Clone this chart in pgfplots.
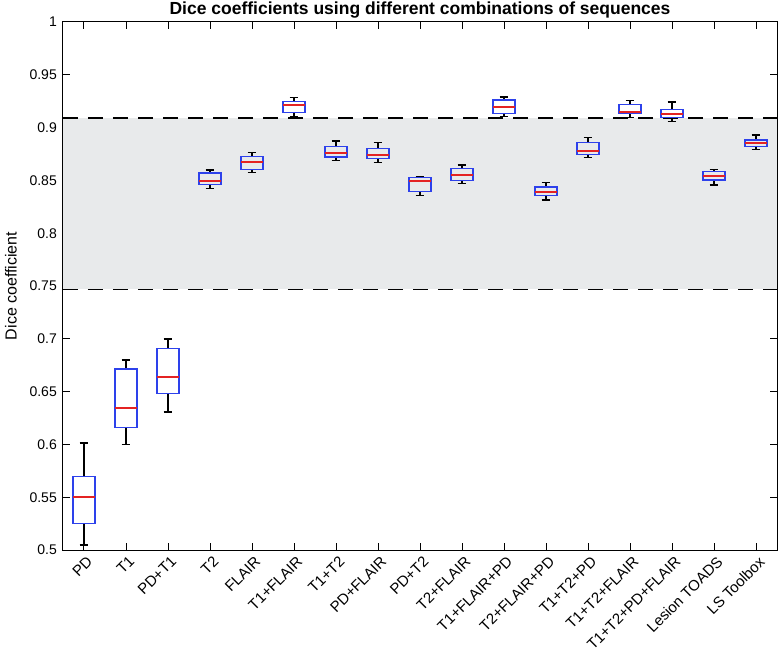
\documentclass[border=0pt]{standalone}
\usepackage{pgfplots}
\pgfplotsset{compat=1.18}
\usepgfplotslibrary{statistics}
\usepackage{fontspec}
\setmainfont{Liberation Sans}
\definecolor{bandgray}{rgb}{0.910,0.918,0.922}
\definecolor{boxblue}{RGB}{45,65,235}
\definecolor{medred}{RGB}{228,35,35}
\begin{document}
\begin{tikzpicture}
\begin{axis}[
  name=ax,
  scale only axis,
  width=714pt, height=528pt,
  xmin=0.5, xmax=17.5, ymin=0.5, ymax=1,
  xtick={1,...,17},
  xticklabels={PD,T1,PD+T1,T2,FLAIR,T1+FLAIR,T1+T2,PD+FLAIR,PD+T2,T2+FLAIR,T1+FLAIR+PD,T2+FLAIR+PD,T1+T2+PD,T1+T2+FLAIR,T1+T2+PD+FLAIR,Lesion TOADS,LS Toolbox},
  ytick={0.5,0.55,0.6,0.65,0.7,0.75,0.8,0.85,0.9,0.95,1},
  yticklabels={0.5,0.55,0.6,0.65,0.7,0.75,0.8,0.85,0.9,0.95,1},
  tick align=inside, xtick pos=both, ytick pos=both,
  major tick length=7pt,
  tick style={black, line width=1pt},
  axis line style={line width=1pt},
  yticklabel style={font=\fontsize{14}{16}\selectfont, inner sep=0pt, xshift=-6pt},
  xticklabel style={font=\fontsize{15}{17}\selectfont, inner sep=0pt, xshift=2pt, yshift=-5pt, rotate=45, anchor=north east},
  ylabel={Dice coefficient},
  every axis y label/.style={at={(axis description cs:0,0.5)}, rotate=90, anchor=center, yshift=52pt, font=\fontsize{16}{18}\selectfont},
  title={Dice coefficients using different combinations of sequences},
  title style={at={(axis description cs:0.5,1)}, anchor=base, yshift=1pt, inner sep=0pt, font=\bfseries\fontsize{17.5}{19}\selectfont},
  boxplot/draw direction=y,
  boxplot/every box/.style={draw=boxblue, line width=1.5pt},
  boxplot/every median/.style={draw=medred, line width=1.8pt},
  boxplot/every whisker/.style={black, line width=1.5pt},
  clip=false,
]
\addplot[draw=none, fill=bandgray] coordinates {(0.5,0.747) (17.5,0.747) (17.5,0.909) (0.5,0.909)} -- cycle;
\addplot[black, line width=1.3pt, dash pattern=on 15pt off 10pt] coordinates {(0.5,0.909) (17.5,0.909)};
\addplot[black, line width=1.3pt, dash pattern=on 15pt off 10pt] coordinates {(0.5,0.747) (17.5,0.747)};
% PD
\addplot[boxplot prepared={draw position=1, lower whisker=0.5047, lower quartile=0.5253, median=0.5505, upper quartile=0.5694, upper whisker=0.6015, box extend=0.52, whisker extend=0.21}] coordinates {};
% T1
\addplot[boxplot prepared={draw position=2, lower whisker=0.6001, lower quartile=0.6162, median=0.6348, upper quartile=0.6714, upper whisker=0.6800, box extend=0.52, whisker extend=0.21}] coordinates {};
% PD+T1
\addplot[boxplot prepared={draw position=3, lower whisker=0.6307, lower quartile=0.6484, median=0.6635, upper quartile=0.6907, upper whisker=0.6998, box extend=0.52, whisker extend=0.21}] coordinates {};
% T2
\addplot[boxplot prepared={draw position=4, lower whisker=0.8425, lower quartile=0.8460, median=0.8491, upper quartile=0.8570, upper whisker=0.8598, box extend=0.52, whisker extend=0.21}] coordinates {};
% FLAIR
\addplot[boxplot prepared={draw position=5, lower whisker=0.8577, lower quartile=0.8602, median=0.8671, upper quartile=0.8725, upper whisker=0.8763, box extend=0.52, whisker extend=0.21}] coordinates {};
% T1+FLAIR
\addplot[boxplot prepared={draw position=6, lower whisker=0.9104, lower quartile=0.9145, median=0.9214, upper quartile=0.9246, upper whisker=0.9283, box extend=0.52, whisker extend=0.21}] coordinates {};
% T1+T2
\addplot[boxplot prepared={draw position=7, lower whisker=0.8687, lower quartile=0.8722, median=0.8763, upper quartile=0.8823, upper whisker=0.8873, box extend=0.52, whisker extend=0.21}] coordinates {};
% PD+FLAIR
\addplot[boxplot prepared={draw position=8, lower whisker=0.8668, lower quartile=0.8709, median=0.8741, upper quartile=0.8804, upper whisker=0.8857, box extend=0.52, whisker extend=0.21}] coordinates {};
% PD+T2
\addplot[boxplot prepared={draw position=9, lower whisker=0.8355, lower quartile=0.8393, median=0.8497, upper quartile=0.8526, upper whisker=0.8535, box extend=0.52, whisker extend=0.21}] coordinates {};
% T2+FLAIR
\addplot[boxplot prepared={draw position=10, lower whisker=0.8469, lower quartile=0.8501, median=0.8551, upper quartile=0.8611, upper whisker=0.8646, box extend=0.52, whisker extend=0.21}] coordinates {};
% T1+FLAIR+PD
\addplot[boxplot prepared={draw position=11, lower whisker=0.9104, lower quartile=0.9135, median=0.9192, upper quartile=0.9261, upper whisker=0.9290, box extend=0.52, whisker extend=0.21}] coordinates {};
% T2+FLAIR+PD
\addplot[boxplot prepared={draw position=12, lower whisker=0.8314, lower quartile=0.8356, median=0.8387, upper quartile=0.8438, upper whisker=0.8482, box extend=0.52, whisker extend=0.21}] coordinates {};
% T1+T2+PD
\addplot[boxplot prepared={draw position=13, lower whisker=0.8719, lower quartile=0.8744, median=0.8778, upper quartile=0.8857, upper whisker=0.8905, box extend=0.52, whisker extend=0.21}] coordinates {};
% T1+T2+FLAIR
\addplot[boxplot prepared={draw position=14, lower whisker=0.9094, lower quartile=0.9138, median=0.9151, upper quartile=0.9220, upper whisker=0.9255, box extend=0.52, whisker extend=0.21}] coordinates {};
% T1+T2+PD+FLAIR
\addplot[boxplot prepared={draw position=15, lower whisker=0.9060, lower quartile=0.9097, median=0.9129, upper quartile=0.9173, upper whisker=0.9242, box extend=0.52, whisker extend=0.21}] coordinates {};
% Lesion TOADS
\addplot[boxplot prepared={draw position=16, lower whisker=0.8456, lower quartile=0.8504, median=0.8539, upper quartile=0.8586, upper whisker=0.8605, box extend=0.52, whisker extend=0.21}] coordinates {};
% LS Toolbox
\addplot[boxplot prepared={draw position=17, lower whisker=0.8794, lower quartile=0.8819, median=0.8857, upper quartile=0.8883, upper whisker=0.8930, box extend=0.52, whisker extend=0.21}] coordinates {};
\end{axis}
\pgfresetboundingbox
\path[use as bounding box] ([xshift=-63pt,yshift=-112pt]ax.south west) rectangle ([xshift=2pt,yshift=22pt]ax.north east);
\end{tikzpicture}
\end{document}
